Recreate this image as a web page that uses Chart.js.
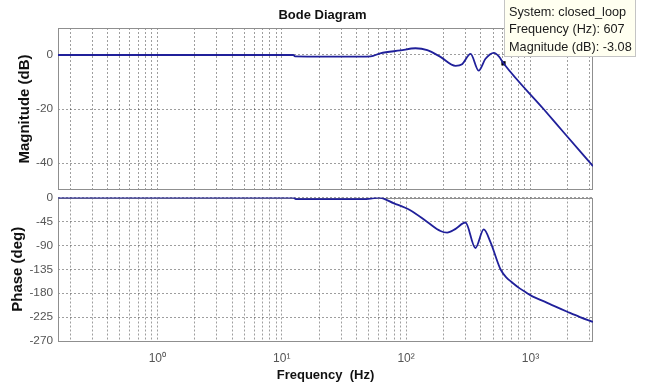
<!DOCTYPE html>
<html><head><meta charset="utf-8">
<script src="https://cdn.jsdelivr.net/npm/chart.js@4.4.0/dist/chart.umd.min.js"></script>
<style>
html,body{margin:0;padding:0;background:#fff;}
#wrap{position:relative;width:645px;height:387px;overflow:hidden;}
canvas{position:absolute;left:0;}
#c1{top:0;} #c2{top:190px;}
</style></head><body>
<div id="wrap">
<canvas id="c1" width="645" height="194"></canvas>
<canvas id="c2" width="645" height="197"></canvas>
</div>
<script>
// ---- data ----
const magFreqHz   = [0.159, 5, 12.4, 12.8, 22.4, 43, 52, 62, 90, 119, 148, 189, 250, 282, 330, 383, 435, 508, 557, 607, 1274, 1846, 3183];
const magnitudeDb = [0, 0, 0, -0.5, -0.6, -0.6, -0.5, 0.6, 1.7, 2.5, 1.8, -0.7, -4.0, -3.4, 0.4, -5.8, -1.4, 0.8, -0.5, -3.08, -20, -28.6, -41.2];
const phaseFreqHz = [0.159, 5, 12.4, 13, 45, 52, 60, 80, 108, 148, 189, 214, 250, 300, 361, 421, 477, 574, 650, 697, 819, 942, 1057, 1300, 1543, 1977, 2500, 3183];
const phaseDeg    = [0, 0, 0, -3, -3, -2, 0, -11, -24, -46, -63, -66, -59, -47, -95, -60, -84, -135, -152, -158, -171, -180, -187, -196, -204, -215, -225, -234];
const xMajorTicks = [1, 10, 100, 1000];
const xTickLabels = ['10\u2070', '10\u00b9', '10\u00b2', '10\u00b3'];
const magTicks = [-40, -20, 0];
const phaseTicks = [-270, -225, -180, -135, -90, -45, 0];
const datatipFreq = [607];
const datatipMag = [-3.08];
const datatipLines = ['System: closed_loop', 'Frequency (Hz): 607', 'Magnitude (dB): -3.08'];

const FONT = 'Liberation Sans, Arial, sans-serif';
const LINE = '#20209a';
const GRID = 'rgba(0,0,0,0.38)';

function logGridTicks(min, max) {
  const t = [];
  for (let e = -1; e <= 3; e++) for (let n = 1; n <= 9; n++) {
    const v = n * Math.pow(10, e);
    if (v >= min && v <= max) t.push({ value: v });
  }
  return t;
}

function noPad(s) { s.paddingTop = 0; s.paddingBottom = 0; s.paddingLeft = 0; s.paddingRight = 0; }

const frame = {
  id: 'frame',
  beforeDatasetsDraw(chart) {
    const { ctx, chartArea: a } = chart;
    ctx.save();
    ctx.strokeStyle = '#8f8f8f';
    ctx.lineWidth = 1;
    ctx.strokeRect(Math.round(a.left) + 0.5, Math.round(a.top) + 0.5, Math.round(a.width) - 1, Math.round(a.height) - 1);
    ctx.restore();
  }
};

const datatip = {
  id: 'datatip',
  afterDraw(chart) {
    const ctx = chart.ctx;
    ctx.save();
    ctx.fillStyle = '#fffff0';
    ctx.strokeStyle = '#c4c4c4';
    ctx.fillRect(504.5, -1.5, 131, 58);
    ctx.strokeRect(504.5, -1.5, 131, 58);
    ctx.fillStyle = '#1a1a1a';
    ctx.font = '12.7px ' + FONT;
    ctx.textBaseline = 'alphabetic';
    datatipLines.forEach((s, i) => ctx.fillText(s, 509, 15.5 + i * 17.8));
    ctx.restore();
  }
};

function xScale(showLabels) {
  return {
    type: 'logarithmic', min: 0.159, max: 3183,
    afterBuildTicks: s => { s.ticks = logGridTicks(0.159, 3183); },
    afterFit: s => { s.height = showLabels ? 46 : 2; noPad(s); },
    grid: { color: GRID, drawTicks: false, lineWidth: 1 },
    border: { display: false, dash: [2, 2] },
    ticks: {
      display: showLabels, autoSkip: false, maxRotation: 0, padding: 10,
      color: '#555', font: { family: FONT, size: 12 },
      callback: v => { const i = xMajorTicks.indexOf(v); return i >= 0 ? xTickLabels[i] : ''; }
    },
    title: {
      display: showLabels, text: 'Frequency  (Hz)', color: '#111',
      font: { family: FONT, size: 13, weight: 'bold' }, padding: { top: 0, bottom: 4 }
    }
  };
}

function yScale(min, max, ticks, label, titlePad) {
  return {
    min: min, max: max,
    afterBuildTicks: s => { s.ticks = ticks.map(v => ({ value: v })); },
    afterFit: s => { s.width = 58; noPad(s); },
    grid: { color: GRID, drawTicks: false, lineWidth: 1 },
    border: { display: false, dash: [2, 2] },
    ticks: { color: '#555', font: { family: FONT, size: 11.8 }, padding: 5 },
    title: { display: true, text: label, color: '#111', font: { family: FONT, size: 15, weight: 'bold' }, padding: { top: titlePad, bottom: 0 } }
  };
}

const spacer = {
  position: 'right', display: true,
  grid: { display: false }, ticks: { display: false }, border: { display: false },
  afterFit: s => { s.width = 52; noPad(s); }
};

new Chart(document.getElementById('c1'), {
  type: 'line',
  data: {
    datasets: [
      {
        data: magFreqHz.map((f, i) => ({ x: f, y: magnitudeDb[i] })),
        borderColor: LINE, borderWidth: 1.8, pointRadius: 0, cubicInterpolationMode: 'monotone'
      },
      {
        data: datatipFreq.map((f, i) => ({ x: f, y: datatipMag[i] })),
        showLine: false, pointStyle: 'rect', pointRadius: 3,
        backgroundColor: '#000', borderColor: '#000', borderWidth: 0
      }
    ]
  },
  options: {
    responsive: false, animation: false, devicePixelRatio: 1,
    layout: { padding: 0 },
    scales: { x: xScale(false), y: yScale(-50, 10, magTicks, 'Magnitude (dB)', 16), yR: spacer },
    plugins: {
      legend: { display: false }, tooltip: { enabled: false },
      title: { display: true, text: 'Bode Diagram', color: '#111', font: { family: FONT, size: 13, weight: 'bold' }, padding: { top: 7.2, bottom: 5.2 } }
    }
  },
  plugins: [frame, datatip]
});

new Chart(document.getElementById('c2'), {
  type: 'line',
  data: {
    datasets: [{
      data: phaseFreqHz.map((f, i) => ({ x: f, y: phaseDeg[i] })),
      borderColor: LINE, borderWidth: 1.8, pointRadius: 0, cubicInterpolationMode: 'monotone'
    }]
  },
  options: {
    responsive: false, animation: false, devicePixelRatio: 1,
    layout: { padding: { top: 7.5, left: 0, right: 0, bottom: 0 } },
    scales: { x: xScale(true), y: yScale(-270, 0, phaseTicks, 'Phase (deg)', 9), yR: spacer },
    plugins: { legend: { display: false }, tooltip: { enabled: false } }
  },
  plugins: [frame]
});
</script>
</body></html>
